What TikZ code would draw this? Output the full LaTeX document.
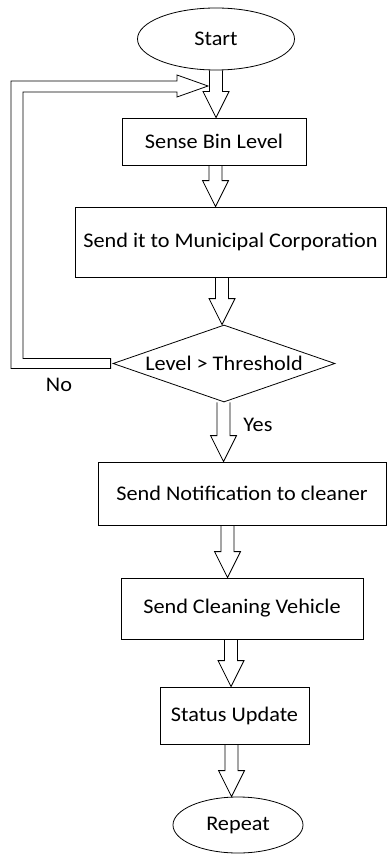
\documentclass[tikz,border=0pt]{standalone}
\usepackage{fontspec}
\setmainfont{Carlito}[FakeStretch=1.07]
\usetikzlibrary{shapes.geometric,calc}

% hollow block arrow going down: #1 = x of shaft, #2 = upper node, #3 = lower node
\newcommand{\blockdown}[3]{%
  \draw[blockarrow] let \p1=(#2.south), \p2=(#3.north) in
    (#1pt-6.5pt,\y1) -- (#1pt-6.5pt,\y2+26pt) -- (#1pt-13pt,\y2+26pt) -- (#1pt,\y2)
    -- (#1pt+13pt,\y2+26pt) -- (#1pt+6.5pt,\y2+26pt) -- (#1pt+6.5pt,\y1);
}

\begin{document}
\begin{tikzpicture}[x=1pt,y=-1pt,
    every node/.style={font=\fontsize{20.8}{24}\selectfont, inner sep=0pt},
    terminal/.style={draw, ellipse, line width=0.8pt},
    process/.style={draw, rectangle, line width=0.8pt},
    decision/.style={draw, diamond, aspect=2.9, line width=0.8pt},
    blockarrow/.style={draw, line width=0.8pt, line join=miter}]
  \useasboundingbox (0,0) rectangle (388,856);

  \node[terminal, minimum width=157, minimum height=62] (start) at (216,39) {Start};
  \node[process, minimum width=184, minimum height=47] (sense) at (214,141.5) {Sense Bin Level};
  \node[process, minimum width=311, minimum height=70] (municipal) at (230.5,242) {Send it to Municipal Corporation};
  \node[decision, minimum width=222, minimum height=77] (check) at (224,363.5) {Level > Threshold};
  \node[process, minimum width=288, minimum height=63] (notify) at (242,493.5) {Send Notification to cleaner};
  \node[process, minimum width=242, minimum height=61] (vehicle) at (242,608.5) {Send Cleaning Vehicle};
  \node[process, minimum width=149, minimum height=57] (status) at (234.5,715.5) {Status Update};
  \node[terminal, minimum width=130, minimum height=56] (repeat) at (238,825) {Repeat};

  \node (no) at (59,385) {No};
  \node (yes) at (258,425) {Yes};

  \blockdown{216}{start}{sense}
  \blockdown{215.5}{sense}{municipal}
  \blockdown{222}{municipal}{check}
  \blockdown{223.5}{check}{notify}
  \blockdown{227.5}{notify}{vehicle}
  \blockdown{231}{vehicle}{status}
  \blockdown{231.5}{status}{repeat}

  % the No loop back to the top
  \coordinate (looptip) at (208,86);
  \draw[blockarrow] let \p1=(check.west), \p2=(looptip) in
    (\x1-2pt,\y1+5pt) -- (23pt,\y1+5pt) -- (23pt,\y2-6pt) -- (\x2-31pt,\y2-6pt)
    -- (\x2-31pt,\y2-11pt) -- (\x2,\y2) -- (\x2-31pt,\y2+11pt) -- (\x2-31pt,\y2+5pt)
    -- (11pt,\y2+5pt) -- (11pt,\y1-5pt) -- (\x1-2pt,\y1-5pt) -- cycle;
\end{tikzpicture}
\end{document}
